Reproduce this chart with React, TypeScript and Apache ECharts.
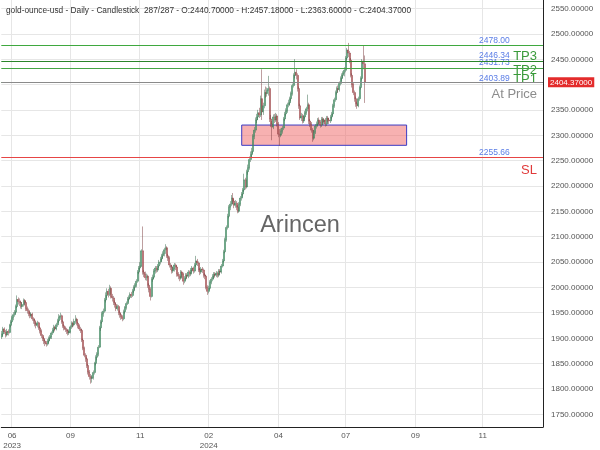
import React, { useEffect, useRef } from 'react';
import * as echarts from 'echarts';

// [open, close, low, high] for each daily bar (287 bars)
const candles: number[][] = [
  [1902,1908,1898,1914],[1908,1918,1904,1922],[1918,1912,1908,1921],[1912,1906,1901,1916],[1906,1913,1903,1918],
  [1913,1911,1905,1917],[1911,1925,1909,1928],[1925,1932,1921,1936],[1932,1940,1929,1944],[1940,1946,1935,1951],
  [1946,1951,1942,1955],[1951,1962,1948,1966],[1962,1976,1959,1984],[1976,1972,1966,1980],[1972,1970,1963,1978],
  [1970,1962,1958,1974],[1962,1966,1957,1971],[1966,1974,1962,1978],[1974,1970,1964,1977],[1970,1958,1953,1973],
  [1958,1954,1948,1962],[1954,1948,1943,1958],[1948,1944,1939,1952],[1944,1947,1940,1951],[1947,1938,1934,1950],
  [1938,1934,1928,1941],[1934,1928,1923,1937],[1928,1925,1919,1931],[1925,1930,1921,1934],[1930,1920,1916,1932],
  [1920,1914,1909,1923],[1914,1905,1900,1917],[1905,1899,1894,1908],[1899,1894,1888,1902],[1894,1890,1884,1897],
  [1890,1888,1883,1894],[1888,1894,1885,1898],[1894,1899,1890,1903],[1899,1902,1895,1906],[1902,1910,1898,1913],
  [1910,1916,1906,1920],[1916,1921,1912,1926],[1921,1918,1913,1924],[1918,1926,1915,1930],[1926,1934,1922,1938],
  [1934,1941,1930,1947],[1941,1944,1936,1950],[1944,1932,1928,1946],[1932,1924,1920,1935],[1924,1920,1915,1927],
  [1920,1917,1912,1923],[1917,1914,1908,1920],[1914,1910,1905,1916],[1910,1912,1906,1917],[1912,1922,1909,1925],
  [1922,1929,1918,1933],[1929,1926,1921,1932],[1926,1933,1923,1938],[1933,1937,1928,1945],[1937,1929,1925,1940],
  [1929,1924,1919,1932],[1924,1918,1914,1927],[1918,1915,1910,1922],[1915,1896,1892,1918],[1896,1880,1876,1899],
  [1880,1866,1862,1883],[1866,1859,1853,1870],[1859,1846,1841,1862],[1846,1833,1828,1849],[1833,1824,1818,1837],
  [1824,1820,1810,1829],[1820,1822,1812,1827],[1822,1832,1818,1836],[1832,1850,1828,1853],[1850,1862,1846,1866],
  [1862,1868,1856,1872],[1868,1882,1864,1886],[1882,1920,1880,1924],[1920,1932,1914,1936],[1932,1948,1928,1952],
  [1948,1953,1942,1958],[1953,1975,1950,1979],[1975,1984,1970,1990],[1984,1992,1978,1998],[1992,1986,1980,1997],
  [1986,1998,1983,2005],[1998,1982,1978,2002],[1982,1979,1972,1987],[1979,1970,1965,1983],[1970,1966,1960,1974],
  [1966,1958,1953,1969],[1958,1962,1954,1966],[1962,1950,1945,1965],[1950,1946,1940,1954],[1946,1942,1936,1949],
  [1942,1938,1933,1945],[1938,1952,1935,1956],[1952,1960,1948,1963],[1960,1968,1956,1972],[1968,1977,1965,1981],
  [1977,1980,1972,1984],[1980,1986,1976,1990],[1986,1984,1979,1991],[1984,1993,1981,1997],[1993,2000,1989,2004],
  [2000,2004,1995,2008],[2004,2012,2000,2016],[2012,2030,2009,2034],[2030,2038,2026,2042],[2038,2042,2033,2050],
  [2042,2072,2040,2075],[2072,2030,2025,2120],[2030,2026,2020,2034],[2026,2019,2014,2031],[2019,2022,2013,2027],
  [2022,2004,1999,2025],[2004,1996,1990,2008],[1996,1982,1974,2000],[1982,2016,1980,2020],[2016,2020,2011,2025],
  [2020,2032,2016,2036],[2032,2038,2027,2042],[2038,2034,2029,2042],[2034,2042,2030,2046],[2042,2050,2038,2054],
  [2050,2056,2045,2060],[2056,2062,2051,2066],[2062,2066,2057,2071],[2066,2074,2061,2078],[2074,2078,2066,2085],
  [2078,2062,2058,2081],[2062,2058,2052,2066],[2058,2044,2039,2061],[2044,2040,2034,2048],[2040,2032,2027,2044],
  [2032,2036,2028,2041],[2036,2044,2031,2048],[2044,2040,2034,2047],[2040,2026,2021,2043],[2026,2022,2016,2030],
  [2022,2018,2012,2026],[2018,2030,2015,2034],[2030,2026,2020,2033],[2026,2012,2005,2029],[2012,2018,2008,2022],
  [2018,2024,2014,2028],[2024,2022,2016,2028],[2022,2030,2018,2034],[2030,2026,2021,2033],[2026,2034,2022,2038],
  [2034,2038,2029,2042],[2038,2032,2027,2041],[2032,2044,2029,2048],[2044,2052,2040,2062],[2052,2048,2042,2056],
  [2048,2034,2030,2051],[2034,2030,2024,2038],[2030,2036,2026,2040],[2036,2034,2028,2040],[2034,2024,2019,2037],
  [2024,2022,2016,2028],[2022,2000,1996,2025],[2000,1992,1985,2004],[1992,1998,1988,2003],[1998,2010,1995,2014],
  [2010,2016,2006,2020],[2016,2022,2012,2026],[2022,2026,2017,2030],[2026,2024,2019,2030],[2024,2028,2020,2032],
  [2028,2024,2019,2031],[2024,2032,2020,2036],[2032,2030,2025,2036],[2030,2042,2027,2046],[2042,2052,2039,2056],
  [2052,2070,2049,2074],[2070,2094,2067,2098],[2094,2118,2090,2122],[2118,2140,2114,2145],[2140,2158,2136,2162],
  [2158,2164,2152,2170],[2164,2176,2160,2182],[2176,2170,2164,2186],[2170,2162,2156,2174],[2162,2166,2157,2172],
  [2166,2158,2152,2170],[2158,2150,2146,2162],[2150,2164,2147,2168],[2164,2176,2160,2180],[2176,2184,2171,2188],
  [2184,2192,2179,2196],[2192,2212,2188,2224],[2212,2198,2193,2216],[2198,2228,2195,2232],[2228,2236,2222,2242],
  [2236,2252,2232,2258],[2252,2262,2247,2268],[2262,2268,2256,2275],[2268,2298,2264,2302],[2298,2310,2292,2316],
  [2310,2330,2305,2335],[2330,2336,2324,2342],[2336,2344,2330,2350],[2344,2340,2334,2354],[2340,2372,2336,2378],
  [2372,2346,2330,2430],[2346,2358,2340,2364],[2358,2384,2353,2390],[2384,2382,2374,2396],[2382,2388,2376,2394],
  [2388,2392,2378,2417],[2392,2332,2326,2396],[2332,2322,2316,2340],[2322,2316,2290,2328],[2316,2336,2312,2341],
  [2336,2330,2324,2342],[2330,2338,2326,2344],[2338,2322,2317,2342],[2322,2302,2296,2326],[2302,2300,2279,2312],
  [2300,2308,2296,2313],[2308,2314,2303,2318],[2314,2332,2310,2336],[2332,2342,2328,2346],[2342,2348,2337,2353],
  [2348,2360,2344,2364],[2360,2364,2355,2370],[2364,2372,2358,2376],[2372,2382,2367,2386],[2382,2398,2378,2402],
  [2398,2418,2394,2422],[2418,2424,2412,2450],[2424,2418,2410,2430],[2418,2392,2386,2422],[2392,2358,2352,2396],
  [2358,2334,2330,2362],[2334,2338,2328,2344],[2338,2328,2323,2342],[2328,2336,2324,2340],[2336,2344,2331,2348],
  [2344,2352,2340,2356],[2352,2360,2347,2380],[2360,2328,2322,2364],[2328,2322,2316,2332],[2322,2310,2305,2326],
  [2310,2294,2287,2314],[2294,2306,2290,2310],[2306,2318,2302,2322],[2318,2322,2313,2327],[2322,2330,2317,2334],
  [2330,2326,2320,2335],[2326,2320,2315,2330],[2320,2332,2316,2336],[2332,2326,2320,2336],[2326,2330,2321,2334],
  [2330,2322,2317,2334],[2322,2334,2318,2338],[2334,2330,2325,2338],[2330,2328,2322,2334],[2328,2336,2324,2340],
  [2336,2342,2331,2346],[2342,2358,2338,2362],[2358,2370,2354,2374],[2370,2384,2366,2388],[2384,2392,2380,2396],
  [2392,2390,2384,2398],[2390,2402,2386,2406],[2402,2412,2398,2416],[2412,2418,2406,2422],[2418,2422,2412,2426],
  [2422,2428,2416,2434],[2428,2452,2424,2456],[2452,2468,2448,2472],[2468,2462,2454,2482],[2462,2448,2442,2466],
  [2448,2418,2414,2452],[2418,2400,2394,2422],[2400,2384,2379,2404],[2384,2372,2366,2388],[2372,2362,2356,2376],
  [2362,2358,2352,2366],[2358,2372,2355,2376],[2372,2394,2368,2398],[2394,2412,2390,2416],[2412,2446,2408,2450],
  [2446,2441,2430,2477],[2440.7,2404.37,2363.6,2457.18],
];

const totalSlots = 427; // data bars plus empty future space
const tickIndex = [8, 54, 109, 163, 218, 271, 326, 379];
const tickLabels = ['06\n2023', '09', '11', '02\n2024', '04', '07', '09', '11'];

const levelValues = [2478.0, 2446.34, 2431.73, 2403.89, 2255.66];
const levelNames = ['', 'TP3', 'TP2', 'TP1', 'SL'];
const levelColors = ['#3fa83f', '#2a852a', '#44a544', '#44a544', '#e64545'];
const atPrice = 2404.37;
const zoneBars = [189, 319];
const zonePrices = [2280, 2320];

const FONT = '"Liberation Sans", Arial, sans-serif';

export default function App() {
  const ref = useRef<HTMLDivElement>(null);
  useEffect(() => {
    document.body.style.margin = '0';
    const el = ref.current!;
    const chart = echarts.init(el, null, { renderer: 'svg' });
    const cats = Array.from({ length: totalSlots }, (_, i) => String(i));
    const showTick = (i: number) => tickIndex.indexOf(i) >= 0;

    chart.setOption({
      animation: false,
      grid: { left: 1.3, right: 57, top: 0, bottom: 18, containLabel: false },
      xAxis: {
        type: 'category',
        data: cats,
        boundaryGap: true,
        axisLine: { show: true, lineStyle: { color: '#222', width: 1 } },
        axisTick: { show: false },
        axisLabel: {
          interval: (i: number) => showTick(i),
          formatter: (_v: string, i: number) => {
            const k = tickIndex.indexOf(i);
            return k >= 0 ? tickLabels[k] : '';
          },
          fontSize: 8,
          lineHeight: 9.5,
          color: '#555',
          fontFamily: FONT,
          margin: 4,
        },
        splitLine: { show: true, interval: (i: number) => showTick(i), lineStyle: { color: '#e6e6e6', width: 1 } },
      },
      yAxis: {
        type: 'value',
        position: 'right',
        min: 1724.5,
        max: 2566.6,
        splitNumber: 17,
        minInterval: 50,
        maxInterval: 50,
        scale: true,
        axisLine: { show: true, lineStyle: { color: '#222', width: 1 } },
        axisTick: { show: false },
        axisLabel: {
          showMinLabel: false,
          showMaxLabel: false,
          // the current-price tag covers the 2400 label in the original
          formatter: (v: number) => (Math.abs(v - 2400) < 1e-6 ? '' : v.toFixed(5)),
          fontSize: 8,
          color: '#555',
          fontFamily: FONT,
          margin: 8,
        },
        splitLine: { show: true, showMaxLine: false, showMinLine: false, lineStyle: { color: '#e6e6e6', width: 1 } },
      },
      series: [
        {
          type: 'candlestick',
          data: candles,
          barWidth: 1.5,
          itemStyle: {
            color: '#52c98a',
            color0: '#ec6a6e',
            borderColor: '#3b6a4f',
            borderColor0: '#7c3e40',
            borderWidth: 0.5,
          },
          markLine: {
            silent: true,
            symbol: ['none', 'none'],
            label: { show: false },
            data: [
              ...levelValues.map((v, i) => ({ yAxis: v, lineStyle: { color: levelColors[i], width: 1, type: 'solid' } })),
              {
                yAxis: atPrice,
                lineStyle: { color: '#8a8a8a', width: 1, type: 'solid' },
                label: {
                  show: true,
                  position: 'end',
                  distance: 5,
                  formatter: atPrice.toFixed(5),
                  backgroundColor: '#e32b2b',
                  color: '#fff',
                  fontSize: 8,
                  fontFamily: FONT,
                  padding: [1, 2, 1, 2],
                },
              },
            ],
          },
          markArea: {
            silent: true,
            itemStyle: { color: 'rgba(240,100,100,0.5)', borderColor: '#3c3cc4', borderWidth: 1 },
            data: [[{ xAxis: zoneBars[0], yAxis: zonePrices[1] }, { xAxis: zoneBars[1], yAxis: zonePrices[0] }]],
          },
        },
      ],
    });

    const py = (v: number) => chart.convertToPixel({ yAxisIndex: 0 }, v) as number;
    const numOffsets = [-5, -5.6, -6.2, -5, -5.3];
    const nameOffsets = [0, -5.6, 1.2, -4, 11.7];
    const graphics: any[] = [
      { type: 'text', x: 6, y: 10, style: { text: 'gold-ounce-usd - Daily - Candlestick', fontSize: 8.3, fontFamily: FONT, fill: '#333', verticalAlign: 'middle' } },
      { type: 'text', x: 144, y: 10, style: { text: '287/287 - O:2440.70000 - H:2457.18000 - L:2363.60000 - C:2404.37000', fontSize: 8.3, fontFamily: FONT, fill: '#333', verticalAlign: 'middle' } },
      { type: 'text', x: 300, y: 223.5, style: { text: 'Arincen', fontSize: 23.5, fontFamily: FONT, fill: '#666', align: 'center', verticalAlign: 'middle' } },
      { type: 'text', x: 537, y: py(atPrice) + 11.3, style: { text: 'At Price', fontSize: 13, fontFamily: FONT, fill: '#8c8c8c', align: 'right', verticalAlign: 'middle' } },
    ];
    levelValues.forEach((v, i) => {
      graphics.push({ type: 'text', x: 479, y: py(v) + numOffsets[i], style: { text: v.toFixed(2), fontSize: 8.5, fontFamily: FONT, fill: '#5a7de6', align: 'left', verticalAlign: 'middle' } });
      if (levelNames[i]) {
        graphics.push({ type: 'text', x: 537, y: py(v) + nameOffsets[i], style: { text: levelNames[i], fontSize: 13, fontFamily: FONT, fill: i === 4 ? '#e03a3a' : '#3a9a3a', align: 'right', verticalAlign: 'middle' } });
      }
    });
    chart.setOption({ graphic: graphics });

    return () => chart.dispose();
  }, []);
  return <div ref={ref} style={{ position: 'fixed', left: 0, top: 0, width: 600, height: 450 }} />;
}
